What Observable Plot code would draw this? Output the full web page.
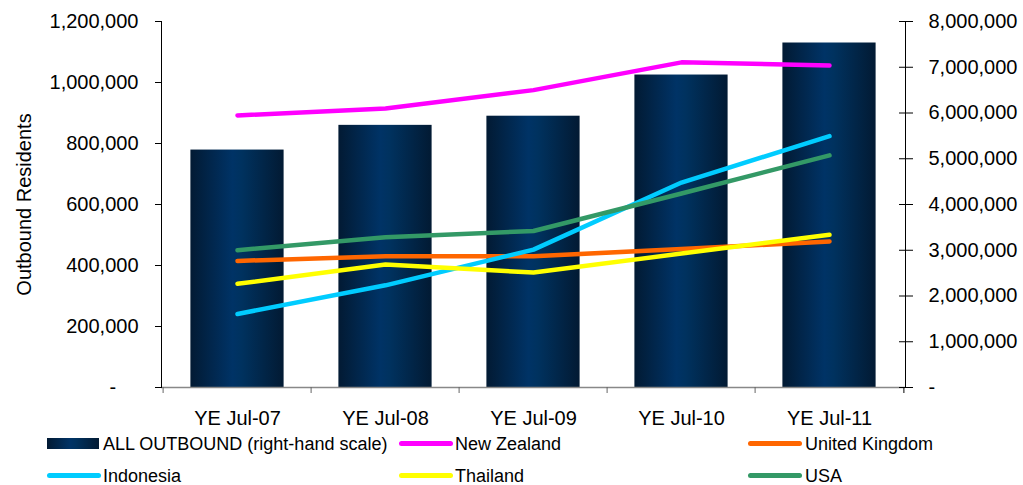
<!DOCTYPE html>
<html>
<head>
<meta charset="utf-8">
<script src="https://cdn.jsdelivr.net/npm/d3@7"></script>
<script src="https://cdn.jsdelivr.net/npm/@observablehq/plot@0.6"></script>
<style>
  html, body { margin: 0; padding: 0; background: #fff; }
  #wrap { position: relative; width: 1023px; height: 485px; font-family: "Liberation Sans", Arial, sans-serif; }
  .leg { position: absolute; font-size: 18px; color: #000; white-space: nowrap; line-height: 1; }
  .sw { position: absolute; height: 5px; border-radius: 3px; }
</style>
</head>
<body>
<div id="wrap"><div id="chart"></div><div id="legend"></div></div>
<script>
const categories = ["YE Jul-07", "YE Jul-08", "YE Jul-09", "YE Jul-10", "YE Jul-11"];
const allOutbound = [5190000, 5730000, 5930000, 6830000, 7530000];
const newZealand = [892000, 915000, 975000, 1066000, 1056000];
const unitedKingdom = [415000, 430000, 430000, 454000, 479000];
const indonesia = [241000, 335000, 452000, 672000, 824000];
const thailand = [340000, 403000, 377000, 439000, 501000];
const usa = [450000, 493000, 513000, 636000, 761000];
const leftTicks = [0, 200000, 400000, 600000, 800000, 1000000, 1200000];
const rightTicks = [0, 1000000, 2000000, 3000000, 4000000, 5000000, 6000000, 7000000, 8000000];

const leftMax = 1200000, rightMax = 8000000;
const k = leftMax / rightMax;
const fmt = d3.format(",");

const seriesDefs = [
  {name: "New Zealand", values: newZealand, color: "#FF00FF"},
  {name: "United Kingdom", values: unitedKingdom, color: "#FF6600"},
  {name: "Indonesia", values: indonesia, color: "#00CCFF"},
  {name: "Thailand", values: thailand, color: "#FFFF00"},
  {name: "USA", values: usa, color: "#339966"}
];

const barData = categories.map((c, i) => ({cat: c, value: allOutbound[i], scaled: allOutbound[i] * k}));

const W = 1023, H = 425, ML = 161, MR = 118, MT = 21, MB = 38;
const bw = (W - ML - MR) / categories.length;

function defs() {
  const ns = "http://www.w3.org/2000/svg";
  const d = document.createElementNS(ns, "defs");
  const g = document.createElementNS(ns, "linearGradient");
  g.setAttribute("id", "barGrad");
  g.setAttribute("x1", "0"); g.setAttribute("x2", "1"); g.setAttribute("y1", "0"); g.setAttribute("y2", "0");
  [["0%", "#021a33"], ["45%", "#003366"], ["55%", "#00325f"], ["100%", "#021a33"]].forEach(([o, c]) => {
    const s = document.createElementNS(ns, "stop");
    s.setAttribute("offset", o); s.setAttribute("stop-color", c);
    g.appendChild(s);
  });
  d.appendChild(g);
  return d;
}

const lineMarks = seriesDefs.map(s => Plot.line(
  categories.map((c, i) => ({cat: c, value: s.values[i]})),
  {x: "cat", y: "value", stroke: s.color, strokeWidth: 4.5, strokeLinecap: "round", strokeLinejoin: "round"}
));

const chart = Plot.plot({
  width: W, height: H,
  marginLeft: ML, marginRight: MR, marginTop: MT, marginBottom: MB,
  x: {type: "band", domain: categories, padding: 0, axis: null, label: null},
  y: {domain: [0, leftMax], axis: null, label: null},
  style: {fontFamily: "'Liberation Sans', Arial, sans-serif", fontSize: "20px", color: "#000", background: "#fff", overflow: "visible"},
  marks: [
    defs,
    Plot.barY(barData, {x: "cat", y: "scaled", fill: "url(#barGrad)", insetLeft: 27.4, insetRight: 27.4}),
    Plot.ruleY([0], {stroke: "#888", strokeWidth: 1.5}),
    Plot.frame({anchor: "left", stroke: "#000"}),
    Plot.frame({anchor: "right", stroke: "#000"}),
    // left axis
    Plot.axisY({anchor: "left", ticks: leftTicks, tickSize: 6, tickPadding: 17, fontSize: 20,
      tickFormat: d => d === 0 ? "-\u00a0\u00a0\u00a0\u00a0" : fmt(d),
      label: "Outbound Residents", labelAnchor: "center", labelArrow: "none", labelOffset: 145}),
    // right axis: crossing ticks + labels
    Plot.axisY({anchor: "right", ticks: rightTicks.map(v => v * k), tickSize: 14, dx: -7, tickFormat: () => "", label: null}),
    Plot.axisY({anchor: "right", ticks: rightTicks.map(v => v * k), tickSize: 0, tickPadding: 23, fontSize: 20,
      tickFormat: d => { const v = Math.round(d / k); return v === 0 ? "-" : fmt(v); }, label: null}),
    // x axis boundary ticks
    Plot.axisX({anchor: "bottom", tickSize: 6, dx: -bw / 2, tickFormat: () => "", stroke: "#666", label: null}),
    Plot.axisX({anchor: "bottom", ticks: [categories[categories.length - 1]], tickSize: 6, dx: bw / 2, tickFormat: () => "", stroke: "#000", label: null}),
    Plot.axisX({anchor: "bottom", tickSize: 0, tickPadding: 23, fontSize: 20, label: null}),
    ...lineMarks
  ]
});
document.getElementById("chart").appendChild(chart);

// Legend (HTML below the SVG)
const legend = document.getElementById("legend");
const legendItems = [
  {label: "ALL OUTBOUND (right-hand scale)", type: "bar", sx: 47, tx: 103, cy: 444},
  {label: seriesDefs[0].name, color: seriesDefs[0].color, sx: 399, tx: 455, cy: 444},
  {label: seriesDefs[1].name, color: seriesDefs[1].color, sx: 748, tx: 805, cy: 444},
  {label: seriesDefs[2].name, color: seriesDefs[2].color, sx: 47, tx: 103, cy: 476},
  {label: seriesDefs[3].name, color: seriesDefs[3].color, sx: 399, tx: 455, cy: 476},
  {label: seriesDefs[4].name, color: seriesDefs[4].color, sx: 748, tx: 805, cy: 476}
];
legendItems.forEach(it => {
  const sw = document.createElement("div");
  if (it.type === "bar") {
    sw.style.cssText = `position:absolute;left:${it.sx}px;top:${it.cy - 6}px;width:52px;height:11px;background:linear-gradient(to right,#021a33 0%,#003366 45%,#00325f 55%,#021a33 100%);`;
  } else {
    sw.className = "sw";
    sw.style.cssText += `left:${it.sx}px;top:${it.cy - 3}px;width:54px;background:${it.color};`;
  }
  legend.appendChild(sw);
  const t = document.createElement("div");
  t.className = "leg";
  t.textContent = it.label;
  t.style.left = it.tx + "px";
  t.style.top = (it.cy - 9) + "px";
  legend.appendChild(t);
});
</script>
</body>
</html>
